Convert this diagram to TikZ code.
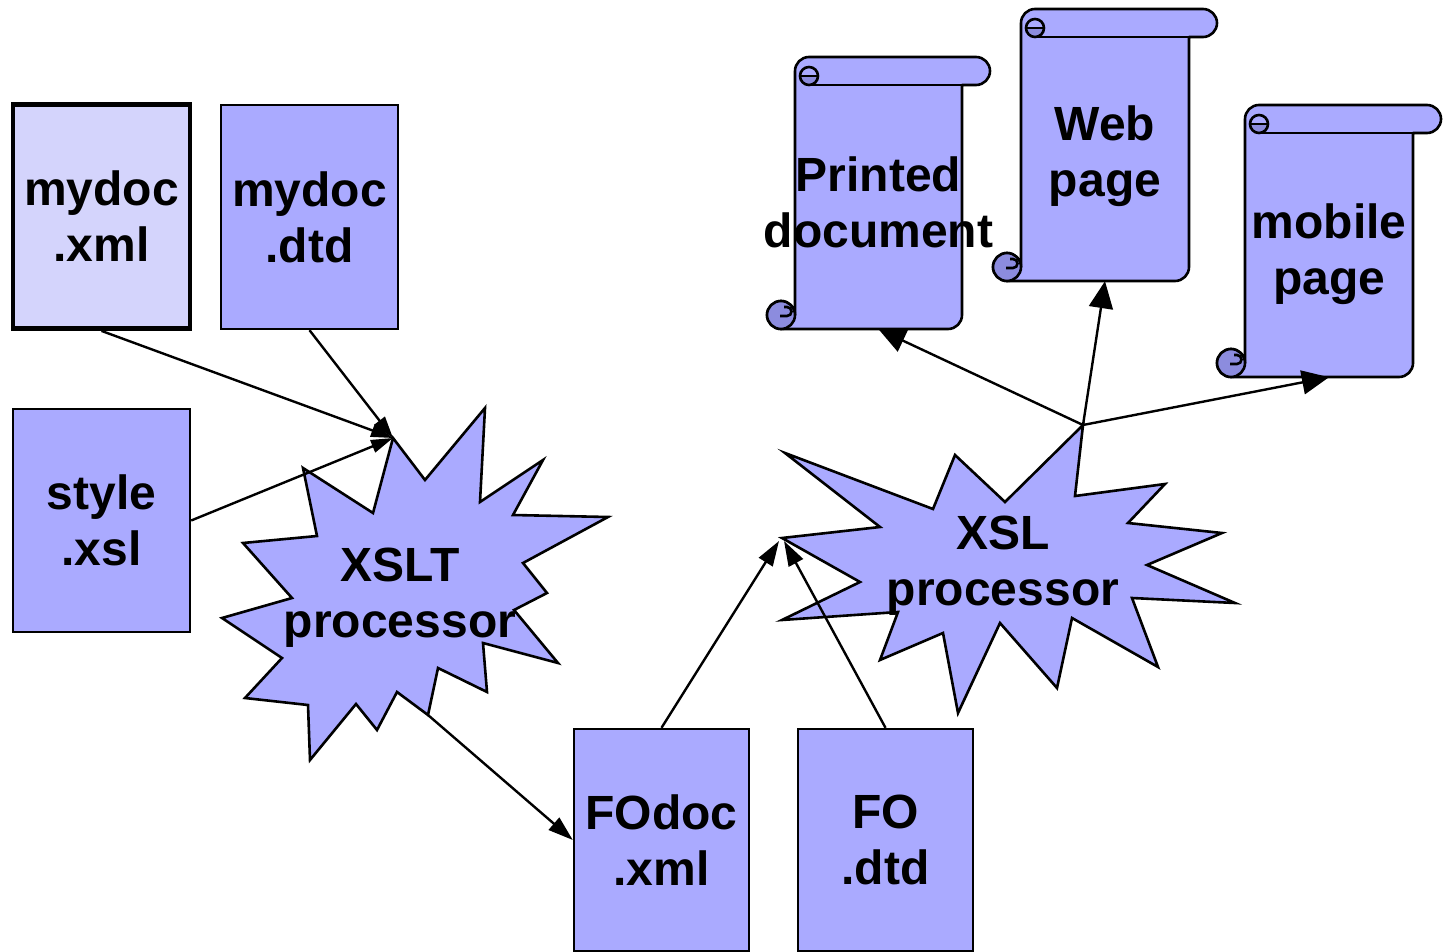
\documentclass[tikz,border=0pt]{standalone}
\usepackage{fontspec}
\setmainfont{Liberation Sans}
\usetikzlibrary{arrows.meta}

\definecolor{docblue}{RGB}{170,170,255}
\definecolor{docpale}{RGB}{212,212,252}
\definecolor{curlblue}{RGB}{140,140,222}

\tikzset{
  bigfont/.style={font=\bfseries\fontsize{48}{56}\selectfont},
  filebox/.style={draw=black, line width=2.4pt, fill=docblue, inner sep=0pt,
    minimum width=177pt, minimum height=224pt, align=center, bigfont},
  srcbox/.style={filebox, fill=docpale, line width=4.8pt},
  lbl/.style={inner sep=0pt, align=center, bigfont},
  burst/.style={draw=black, line width=2.6pt, fill=docblue, line join=miter},
  scrollfill/.style={draw=black, line width=2.6pt, fill=docblue, line join=round},
  curl/.style={draw=black, line width=2.6pt, fill=curlblue},
  conn/.style={line width=2.4pt, -{Triangle[length=22pt,width=13pt]}},
  midconn/.style={line width=2.4pt, -{Triangle[length=25pt,width=16pt]}},
  bigconn/.style={line width=2.4pt, -{Triangle[length=27pt,width=24pt]}},
}

% vertical scroll: #1 body left, #2 body right, #3 top of roll, #4 bottom
\newcommand\drawscroll[4]{%
  \path[scrollfill] (#1,{#3+14}) arc[start angle=180,end angle=270,radius=14]
    -- ({#2+14},#3) arc[start angle=-90,end angle=90,radius=14]
    -- (#2,{#3+28}) -- (#2,{#4-14}) arc[start angle=0,end angle=90,radius=14]
    -- ({#1-14},#4) arc[start angle=90,end angle=360,radius=14] -- cycle;
  \draw[line width=2.6pt] ({#1+14},{#3+28}) -- (#2,{#3+28});
  \fill[curlblue] ({#1+23},{#3+19}) arc[start angle=0,end angle=180,radius=9] -- cycle;
  \draw[line width=2.6pt] ({#1+14},{#3+19}) circle[radius=9];
  \draw[line width=2.6pt] ({#1+5},{#3+19}) -- ({#1+23},{#3+19});
  \path[curl] ({#1-14},{#4-14}) circle[radius=14];
  \draw[line width=2.6pt] ({#1-15},{#4-13}) -- ({#1-8},{#4-13})
    arc[start angle=90,end angle=-90,radius=4.5] -- ({#1-11},{#4-22});
}

\begin{document}
\begin{tikzpicture}[x=1pt,y=-1pt]
\useasboundingbox (0,0) rectangle (1445,952);

% processors
\path[burst] (393,438) -- (425,480) -- (485,408) -- (480,502) -- (543,460)
  -- (513,515) -- (608,517) -- (523,563) -- (547,593) -- (514,610) -- (558,663)
  -- (483,643) -- (487,692) -- (438,668) -- (428,715) -- (397,692) -- (377,730)
  -- (356,704) -- (310,760) -- (308,705) -- (245,698) -- (282,658) -- (222,618)
  -- (292,598) -- (243,543) -- (317,536) -- (303,468) -- (373,513) -- cycle;
\path[burst] (1083,425) -- (1075,496) -- (1165,484) -- (1128,523) -- (1222,533)
  -- (1147,565) -- (1235,603) -- (1132,598) -- (1158,667) -- (1072,618)
  -- (1057,688) -- (1000,623) -- (958,713) -- (943,633) -- (880,660) -- (898,612)
  -- (782,620) -- (860,582) -- (782,538) -- (880,527) -- (785,453) -- (933,509)
  -- (955,455) -- (1005,502) -- cycle;

\coordinate (xsltin) at (393,438);
\coordinate (xsltout) at (428,715);
\coordinate (xslinA) at (779,541);
\coordinate (xslinB) at (784,541);
\coordinate (xslout) at (1083,425);

% output scrolls
\drawscroll{795}{962}{57}{329}
\drawscroll{1021}{1189}{9}{281}
\drawscroll{1245}{1413}{105}{377}

% files
\node[srcbox] (mydocxml) at (101.5,216.5) {mydoc\\.xml};
\node[filebox] (mydocdtd) at (309.5,217) {mydoc\\.dtd};
\node[filebox, minimum height=223pt] (stylexsl) at (101.5,520.5) {style\\.xsl};
\node[filebox, minimum width=175pt, minimum height=222pt] (fodoc) at (661.5,840) {FOdoc\\.xml};
\node[filebox, minimum width=175pt, minimum height=222pt] (fodtd) at (885.5,840) {FO\\.dtd};

% connectors
\draw[conn] (mydocxml.south) -- (xsltin);
\draw[conn] (mydocdtd.south) -- (xsltin);
\draw[conn] (stylexsl.east) -- (xsltin);
\draw[midconn] (xsltout) -- (fodoc.west);
\draw[midconn] (fodoc.north) -- (xslinA);
\draw[midconn] (fodtd.north) -- (xslinB);

% output labels, sized to the scroll bodies so that south is the bottom centre
\node[lbl, minimum width=167pt, minimum height=254pt] (printed) at (878.5,202) {Printed\\document};
\node[lbl, minimum width=168pt, minimum height=250pt] (web) at (1105,156) {Web\\page};
\node[lbl, minimum width=168pt, minimum height=246pt] (mobile) at (1329,254) {mobile\\page};

\draw[bigconn] (xslout) -- (printed.south);
\draw[bigconn] (xslout) -- (web.south);
\draw[bigconn] (xslout) -- (mobile.south);

% processor labels
\node[lbl] (xslt) at (400,598) {XSLT\\processor};
\node[lbl] (xsl) at (1003,566) {XSL\\processor};
\end{tikzpicture}
\end{document}
